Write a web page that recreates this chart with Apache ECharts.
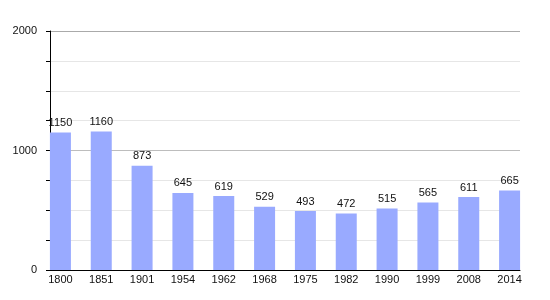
<!DOCTYPE html>
<html><head><meta charset="utf-8">
<script src="https://cdn.jsdelivr.net/npm/echarts@6/dist/echarts.min.js"></script>
<style>html,body{margin:0;padding:0;background:#fff}#c{width:550px;height:300px}</style>
</head><body><div id="c"></div>
<script>
const years = ['1800','1851','1901','1954','1962','1968','1975','1982','1990','1999','2008','2014'];
const population = [1150,1160,873,645,619,529,493,472,515,565,611,665];
const yTicks = [0,1000,2000];

const chart = echarts.init(document.getElementById('c'));
const font = 'Liberation Sans, Arial, sans-serif';
chart.setOption({
  animation:false,
  grid:[
    {left:40,right:20,top:31,bottom:30},
    {left:50,right:30,top:31,bottom:30}
  ],
  xAxis:[
    {type:'category',gridIndex:0,data:years,axisLine:{show:false},axisTick:{show:false},
     axisLabel:{margin:4,fontSize:11,color:'#111',fontFamily:font}},
    {type:'value',gridIndex:1,min:0,max:1,axisLine:{show:true,lineStyle:{color:'#000',width:1}},
     axisTick:{show:false},axisLabel:{show:false},splitLine:{show:false}}
  ],
  yAxis:[
    {type:'value',gridIndex:0,min:0,max:2000,interval:1000,axisLine:{show:false},axisTick:{show:false},
     axisLabel:{show:false},splitLine:{show:false}},
    {type:'value',gridIndex:1,min:0,max:2000,interval:1000,
     axisLine:{show:true,lineStyle:{color:'#000',width:1}},
     axisTick:{show:true,length:4,lineStyle:{color:'#000'}},
     minorTick:{show:true,splitNumber:4,length:4,lineStyle:{color:'#000'}},
     axisLabel:{margin:13,fontSize:11,color:'#111',fontFamily:font,
       formatter:v=>yTicks.includes(v)?String(v):''},
     splitLine:{show:true,lineStyle:{color:['#000','#bdbdbd','#aaaaaa'],width:1}},
     minorSplitLine:{show:true,lineStyle:{color:'#e6e6e6',width:1}}}
  ],
  series:[{
    type:'bar',xAxisIndex:0,yAxisIndex:0,data:population,barWidth:21,
    itemStyle:{color:'#99aaff'},
    label:{show:true,position:'top',distance:4,fontSize:11,color:'#111',fontFamily:font}
  }]
});
</script></body></html>
